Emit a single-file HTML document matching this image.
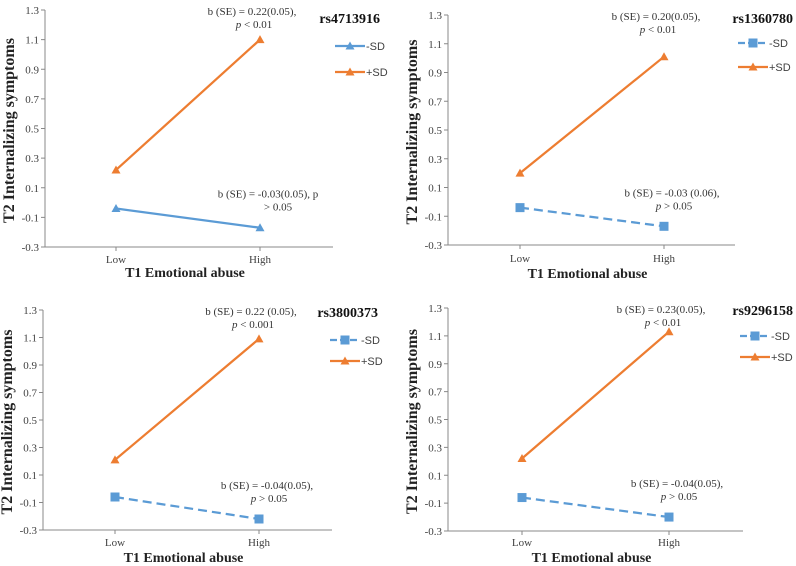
<!DOCTYPE html>
<html><head><meta charset="utf-8">
<style>
html,body{margin:0;padding:0;background:#fff;}
svg{display:block;font-family:"Liberation Serif",serif;}
</style></head>
<body>
<svg id="chart" width="796" height="566" viewBox="0 0 796 566"></svg>
<script>
const categories = ["Low", "High"];
const yTicks = [1.3, 1.1, 0.9, 0.7, 0.5, 0.3, 0.1, -0.1, -0.3];
const yTickLabels = ["1.3", "1.1", "0.9", "0.7", "0.5", "0.3", "0.1", "-0.1", "-0.3"];
const snpNames = ["rs4713916", "rs1360780", "rs3800373", "rs9296158"];
const minusSD1 = [-0.04, -0.17];
const plusSD1 = [0.22, 1.10];
const minusSD2 = [-0.04, -0.17];
const plusSD2 = [0.20, 1.01];
const minusSD3 = [-0.06, -0.22];
const plusSD3 = [0.21, 1.09];
const minusSD4 = [-0.06, -0.20];
const plusSD4 = [0.22, 1.13];
const upperNotes = [["b (SE) = 0.22(0.05),", "< 0.01"], ["b (SE) = 0.20(0.05),", "< 0.01"], ["b (SE) = 0.22 (0.05),", "< 0.001"], ["b (SE) = 0.23(0.05),", "< 0.01"]];
const lowerNotes = [["b (SE) = -0.03(0.05),  p", "> 0.05"], ["b (SE) = -0.03 (0.06),", "> 0.05"], ["b (SE) = -0.04(0.05),", "> 0.05"], ["b (SE) = -0.04(0.05),", "> 0.05"]];

const NS = "http://www.w3.org/2000/svg";
const svg = document.getElementById("chart");
const BLUE = "#5b9bd5", ORANGE = "#ed7d31";
function mk(tag, attrs, parent, text) {
  const e = document.createElementNS(NS, tag);
  for (const k in attrs) e.setAttribute(k, attrs[k]);
  if (text !== undefined) e.textContent = text;
  parent.appendChild(e);
  return e;
}
const layouts = [
  {ax: 45, top: 10, bot: 247, right: 333, lowX: 116, highX: 260, solid: true, legX: 335, legY1: 46, legY2: 72, titleX: 380, titleY: 23, tickY: 263, xtY: 277},
  {ax: 448, top: 15, bot: 245, right: 735, lowX: 520, highX: 664, solid: false, legX: 738, legY1: 43, legY2: 67, titleX: 793, titleY: 23, tickY: 262, xtY: 278},
  {ax: 43, top: 310, bot: 530, right: 332, lowX: 115, highX: 259, solid: false, legX: 330, legY1: 340, legY2: 361, titleX: 378, titleY: 317, tickY: 546, xtY: 562},
  {ax: 448, top: 308, bot: 531, right: 743, lowX: 522, highX: 669, solid: false, legX: 740, legY1: 336, legY2: 357, titleX: 793, titleY: 315, tickY: 546, xtY: 562}
];
const minusSets = [minusSD1, minusSD2, minusSD3, minusSD4];
const plusSets = [plusSD1, plusSD2, plusSD3, plusSD4];

function triangle(g, x, y, color, name) {
  const t = mk("polygon", {points: `${x},${y-4.5} ${x-4.5},${y+3.5} ${x+4.5},${y+3.5}`, fill: color}, g);
  
  
}
function square(g, x, y, color, name) {
  const s = mk("rect", {x: x-4.5, y: y-4.5, width: 9, height: 9, fill: color}, g);
  
  
}

layouts.forEach((L, i) => {
  const g = mk("g", {}, svg);
  
  
  const yMin = yTicks[yTicks.length - 1], yMax = yTicks[0];
  const yScale = v => L.bot - (v - yMin) / (yMax - yMin) * (L.bot - L.top);
  const xPos = [L.lowX, L.highX];
  const xScale = idx => xPos[idx];
  const yAxis = mk("line", {x1: L.ax, y1: L.top, x2: L.ax, y2: L.bot, stroke: "#888", "stroke-width": 1}, g);
  
  
  const xAxis = mk("line", {x1: L.ax, y1: L.bot, x2: L.right, y2: L.bot, stroke: "#888", "stroke-width": 1}, g);
  
  
  yTicks.forEach((v, k) => {
    const y = yScale(v);
    mk("line", {x1: L.ax - 4, y1: y, x2: L.ax, y2: y, stroke: "#888"}, g);
    const t = mk("text", {x: L.ax - 6, y: y + 4, "text-anchor": "end", "font-size": 11, fill: "#404040"}, g, yTickLabels[k]);
    
    
  });
  categories.forEach((c, k) => {
    const x = xScale(k);
    mk("line", {x1: x, y1: L.bot, x2: x, y2: L.bot + 4, stroke: "#888"}, g);
    const t = mk("text", {x: x, y: L.tickY, "text-anchor": "middle", "font-size": 11, fill: "#404040"}, g, c);
    
    
  });
  const xt = mk("text", {x: (L.ax + L.right) / 2 - 4, y: L.xtY, "text-anchor": "middle", "font-size": 14, "font-weight": "bold", fill: "#222"}, g, "T1 Emotional abuse");
  
  
  const cy = (L.top + L.bot) / 2 + 2;
  const tx = L.ax - 31;
  const yt = mk("text", {x: tx, y: cy, "text-anchor": "middle", "font-size": 16, "font-weight": "bold", fill: "#222", transform: `rotate(-90 ${tx} ${cy})`}, g, "T2 Internalizing symptoms");
  
  
  const title = mk("text", {x: L.titleX, y: L.titleY, "text-anchor": "end", "font-size": 14, "font-weight": "bold", fill: "#111"}, g, snpNames[i]);
  
  
  const mn = minusSets[i], pl = plusSets[i];
  const lm = mk("line", {x1: xScale(0), y1: yScale(mn[0]), x2: xScale(1), y2: yScale(mn[1]), stroke: BLUE, "stroke-width": 2.25, "stroke-dasharray": L.solid ? "none" : "9,5"}, g);
  
  
  const lp = mk("line", {x1: xScale(0), y1: yScale(pl[0]), x2: xScale(1), y2: yScale(pl[1]), stroke: ORANGE, "stroke-width": 2.25}, g);
  
  
  mn.forEach((v, k) => { if (L.solid) triangle(g, xScale(k), yScale(v), BLUE, 'minus-sd-point'); else square(g, xScale(k), yScale(v), BLUE, 'minus-sd-point'); });
  pl.forEach((v, k) => triangle(g, xScale(k), yScale(v), ORANGE, 'plus-sd-point'));
  const ux = xScale(1) - 8, uy = L.top + 5;
  const a1 = mk("text", {x: ux, y: uy, "text-anchor": "middle", "font-size": 11, fill: "#333"}, g, upperNotes[i][0]);
  
  
  const a2 = mk("text", {x: ux + 2, y: uy + 13, "text-anchor": "middle", "font-size": 11, fill: "#333"}, g);
  
  
  mk("tspan", {"font-style": "italic"}, a2, "p ");
  mk("tspan", {}, a2, upperNotes[i][1]);
  const ly = yScale(mn[1]) - 30;
  const lx = xScale(1) + 8;
  const b1 = mk("text", {x: lx, y: ly, "text-anchor": "middle", "font-size": 11, fill: "#333"}, g, lowerNotes[i][0]);
  
  
  const b2 = mk("text", {x: lx + (i === 0 ? 10 : 2), y: ly + 13, "text-anchor": "middle", "font-size": 11, fill: "#333"}, g);
  
  
  if (i !== 0) mk("tspan", {"font-style": "italic"}, b2, "p ");
  mk("tspan", {}, b2, lowerNotes[i][1]);
  const lg = mk("g", {}, g);
  
  
  const e1 = mk("line", {x1: L.legX, y1: L.legY1, x2: L.legX + 30, y2: L.legY1, stroke: BLUE, "stroke-width": 2.25, "stroke-dasharray": L.solid ? "none" : "7,3"}, lg);
  
  
  if (L.solid) triangle(lg, L.legX + 15, L.legY1, BLUE, 'legend-marker'); else square(lg, L.legX + 15, L.legY1, BLUE, 'legend-marker');
  mk("text", {x: L.legX + 31, y: L.legY1 + 4, "font-size": 11, "font-family": "Liberation Sans, sans-serif", fill: "#404040"}, lg, "-SD");
  const e2 = mk("line", {x1: L.legX, y1: L.legY2, x2: L.legX + 30, y2: L.legY2, stroke: ORANGE, "stroke-width": 2.25}, lg);
  
  
  triangle(lg, L.legX + 15, L.legY2, ORANGE, 'legend-marker');
  mk("text", {x: L.legX + 31, y: L.legY2 + 4, "font-size": 11, "font-family": "Liberation Sans, sans-serif", fill: "#404040"}, lg, "+SD");
});
</script>
</body></html>
